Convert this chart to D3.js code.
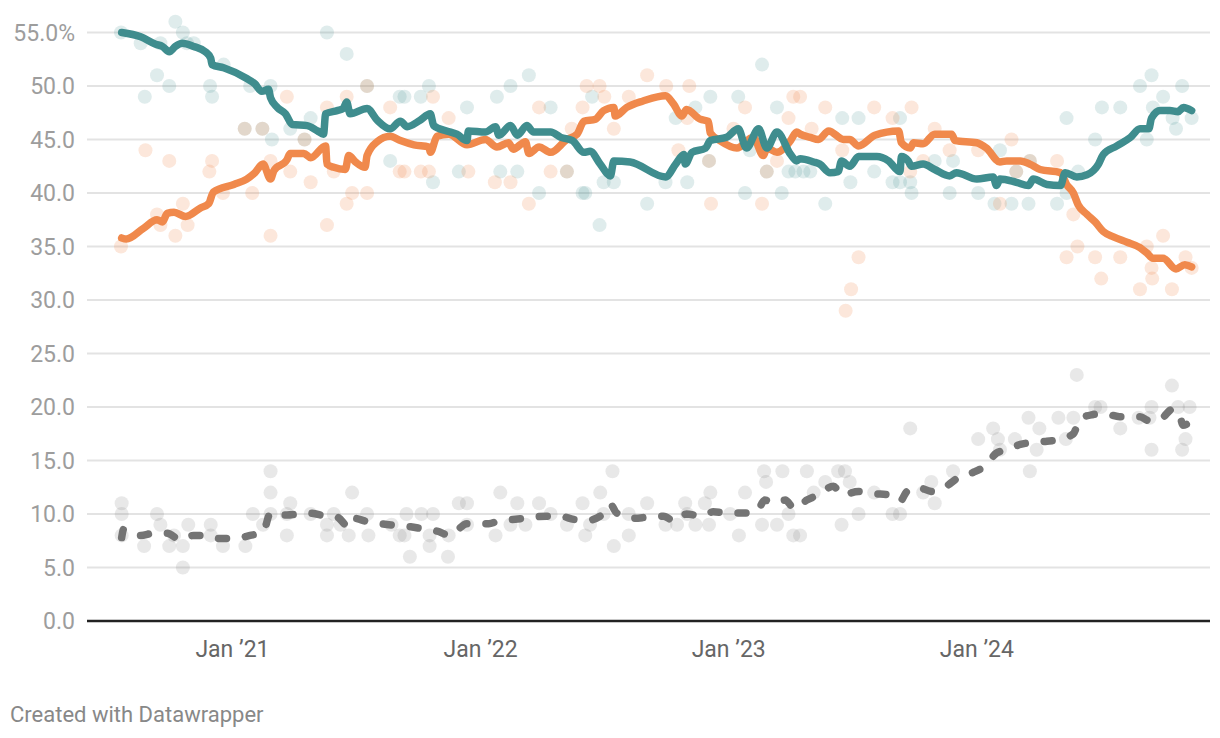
<!DOCTYPE html>
<html><head><meta charset="utf-8">
<script src="https://cdn.jsdelivr.net/npm/d3@7"></script>
<style>
html,body{margin:0;padding:0;background:#fff;}
svg text{font-family:Roboto,"Noto Sans",sans-serif;}
</style></head>
<body><svg id="c" width="1220" height="738"></svg>
<script>
// ---------- data ----------
const yTicks = [0,5,10,15,20,25,30,35,40,45,50,55];
const xTickDates = ["2021-01-01","2022-01-01","2023-01-01","2024-01-01"];
const xTickLabels = ["Jan \u201921","Jan \u201922","Jan \u201923","Jan \u201924"];

const tealLine = [["2020-07-22",55.0],["2020-08-19",54.6],["2020-09-10",53.9],["2020-09-20",53.7],["2020-09-30",53.2],["2020-10-09",53.7],["2020-10-19",54.0],["2020-11-05",53.7],["2020-11-22",53.2],["2020-11-30",52.6],["2020-12-02",52.0],["2020-12-19",51.7],["2021-01-22",50.7],["2021-02-03",50.2],["2021-02-13",49.5],["2021-02-23",49.7],["2021-02-26",48.9],["2021-03-08",48.0],["2021-03-20",47.4],["2021-03-30",46.4],["2021-04-21",46.3],["2021-05-06",45.8],["2021-05-15",45.5],["2021-05-18",47.4],["2021-06-04",47.7],["2021-06-13",47.9],["2021-06-18",48.5],["2021-06-23",47.4],["2021-07-18",47.9],["2021-08-02",46.8],["2021-08-21",46.0],["2021-09-05",46.7],["2021-09-15",46.2],["2021-10-04",46.8],["2021-10-19",47.4],["2021-10-24",46.3],["2021-11-12",45.8],["2021-11-27",45.5],["2021-12-12",44.9],["2021-12-14",45.8],["2022-01-08",45.7],["2022-01-23",46.2],["2022-01-28",45.4],["2022-02-14",46.3],["2022-02-24",45.4],["2022-03-10",46.3],["2022-03-20",45.7],["2022-04-14",45.7],["2022-04-29",45.2],["2022-05-16",44.9],["2022-06-02",43.8],["2022-06-11",43.9],["2022-06-26",42.7],["2022-07-11",41.6],["2022-07-16",43.0],["2022-08-09",42.9],["2022-09-30",41.5],["2022-10-15",42.7],["2022-10-27",43.6],["2022-10-29",42.7],["2022-11-08",43.8],["2022-11-28",44.2],["2022-12-05",44.9],["2022-12-29",45.2],["2023-01-15",46.0],["2023-01-27",44.2],["2023-02-14",46.0],["2023-02-26",44.2],["2023-03-13",45.7],["2023-04-02",43.6],["2023-04-11",43.0],["2023-04-16",43.2],["2023-05-06",42.9],["2023-05-15",42.7],["2023-05-30",41.9],["2023-06-11",42.0],["2023-06-16",43.0],["2023-06-28",42.5],["2023-07-11",43.4],["2023-08-07",43.4],["2023-08-24",43.0],["2023-09-10",42.0],["2023-09-12",43.4],["2023-09-22",43.0],["2023-09-27",42.5],["2023-10-14",42.7],["2023-10-31",42.2],["2023-11-22",41.6],["2023-12-02",41.9],["2024-01-01",41.3],["2024-01-25",41.5],["2024-01-30",40.7],["2024-02-04",41.3],["2024-02-28",41.0],["2024-03-17",40.7],["2024-03-24",41.3],["2024-04-13",40.8],["2024-05-03",40.7],["2024-05-10",41.9],["2024-05-27",41.5],["2024-06-11",41.7],["2024-06-28",42.7],["2024-07-05",43.6],["2024-07-25",44.4],["2024-08-14",45.2],["2024-08-28",46.0],["2024-09-10",46.0],["2024-09-14",47.0],["2024-09-27",47.7],["2024-10-11",47.7],["2024-10-23",47.6],["2024-10-31",48.0],["2024-11-12",47.7]];

const orangeLine = [["2020-07-22",35.8],["2020-07-29",35.7],["2020-08-23",36.7],["2020-09-12",37.5],["2020-09-20",37.3],["2020-09-27",38.1],["2020-10-07",38.2],["2020-10-24",37.8],["2020-11-15",38.6],["2020-11-27",39.0],["2020-12-04",40.1],["2021-01-03",40.8],["2021-01-22",41.3],["2021-02-03",41.9],["2021-02-15",42.7],["2021-02-26",41.3],["2021-03-03",42.1],["2021-03-22",43.1],["2021-03-27",43.7],["2021-04-16",43.7],["2021-04-26",43.3],["2021-05-18",44.4],["2021-05-20",42.7],["2021-05-30",42.4],["2021-06-16",42.2],["2021-06-21",43.5],["2021-07-01",42.9],["2021-07-15",42.4],["2021-07-18",43.5],["2021-08-02",44.8],["2021-08-21",45.3],["2021-09-05",44.9],["2021-09-25",44.5],["2021-10-17",44.3],["2021-10-19",43.8],["2021-10-29",45.3],["2021-11-15",45.5],["2021-12-12",44.5],["2022-01-08",45.0],["2022-01-25",44.3],["2022-02-11",44.7],["2022-02-18",44.1],["2022-03-08",44.8],["2022-03-13",43.7],["2022-03-28",44.3],["2022-04-14",43.8],["2022-05-08",45.0],["2022-05-23",45.5],["2022-06-02",46.7],["2022-06-19",46.9],["2022-07-01",47.7],["2022-07-16",48.0],["2022-07-18",47.2],["2022-08-04",48.0],["2022-08-28",48.6],["2022-09-30",49.1],["2022-10-12",48.3],["2022-10-24",47.2],["2022-10-31",47.8],["2022-11-20",46.9],["2022-12-02",46.7],["2022-12-05",45.6],["2022-12-19",44.9],["2023-01-13",44.2],["2023-02-06",45.2],["2023-02-21",43.5],["2023-02-26",44.2],["2023-03-13",43.8],["2023-04-02",44.9],["2023-04-11",45.7],["2023-04-16",45.5],["2023-05-01",45.2],["2023-05-13",45.0],["2023-05-28",45.8],["2023-06-19",45.0],["2023-06-28",45.0],["2023-07-11",44.4],["2023-08-04",45.4],["2023-09-08",45.8],["2023-09-12",44.7],["2023-09-25",44.2],["2023-09-30",44.7],["2023-10-14",44.6],["2023-10-31",45.5],["2023-11-25",45.5],["2023-11-30",44.9],["2024-01-01",44.7],["2024-01-15",44.2],["2024-02-04",42.9],["2024-02-14",43.0],["2024-03-05",43.0],["2024-03-19",42.7],["2024-04-03",42.2],["2024-05-03",41.9],["2024-05-12",40.8],["2024-05-22",40.0],["2024-05-29",38.9],["2024-06-11",38.0],["2024-06-23",37.3],["2024-07-05",36.4],["2024-07-20",35.9],["2024-08-09",35.4],["2024-08-28",34.9],["2024-09-07",34.4],["2024-09-16",33.9],["2024-10-01",33.9],["2024-10-20",32.9],["2024-11-02",33.3],["2024-11-12",33.1]];

const grayLine = [["2020-07-22",7.8],["2020-07-25",8.6],["2020-08-19",8.0],["2020-09-07",8.2],["2020-09-27",8.2],["2020-10-16",7.6],["2020-11-05",8.0],["2020-11-24",8.0],["2020-12-14",7.7],["2021-01-03",7.7],["2021-01-27",8.0],["2021-02-15",8.3],["2021-02-26",10.1],["2021-03-22",9.9],["2021-04-21",10.1],["2021-05-20",9.8],["2021-06-04",9.7],["2021-06-21",8.8],["2021-06-28",9.6],["2021-07-18",9.3],["2021-08-06",9.1],["2021-09-05",8.9],["2021-09-20",8.8],["2021-10-09",8.6],["2021-10-29",8.4],["2021-11-17",8.0],["2021-12-12",9.1],["2022-01-13",9.1],["2022-01-30",9.4],["2022-02-21",9.5],["2022-03-20",9.7],["2022-04-08",9.8],["2022-04-28",9.8],["2022-05-18",9.5],["2022-06-06",9.4],["2022-06-26",9.8],["2022-07-11",10.9],["2022-07-20",10.1],["2022-08-14",9.6],["2022-09-03",9.7],["2022-09-27",9.8],["2022-10-14",9.3],["2022-10-31",10.0],["2022-11-22",9.8],["2022-12-09",10.2],["2023-01-03",10.1],["2023-01-23",10.1],["2023-02-11",10.2],["2023-02-23",11.3],["2023-03-08",11.0],["2023-03-25",11.3],["2023-04-08",10.5],["2023-04-26",11.3],["2023-05-13",11.8],["2023-06-04",12.6],["2023-06-16",11.8],["2023-07-11",12.1],["2023-08-02",11.9],["2023-08-24",11.8],["2023-09-10",11.2],["2023-09-20",12.1],["2023-10-05",12.5],["2023-10-28",12.1],["2023-11-17",12.6],["2023-12-07",13.5],["2023-12-27",13.9],["2024-01-15",14.6],["2024-01-30",15.7],["2024-02-14",16.0],["2024-03-05",16.5],["2024-03-24",16.7],["2024-04-13",16.8],["2024-05-03",17.0],["2024-05-22",17.5],["2024-06-01",18.9],["2024-06-20",19.3],["2024-07-05",19.4],["2024-07-29",19.1],["2024-08-28",19.1],["2024-09-11",18.7],["2024-09-28",18.9],["2024-10-15",19.8],["2024-10-25",19.4],["2024-10-30",18.3],["2024-11-12",18.7]];

const tealPolls = [["2020-07-21",55],["2020-08-19",54],["2020-08-25",49],["2020-09-12",51],["2020-09-17",54],["2020-09-30",50],["2020-10-09",56],["2020-10-20",55],["2020-10-26",54],["2020-11-05",54],["2020-11-29",50],["2020-12-02",49],["2020-12-19",52],["2021-01-19",46],["2021-01-27",50],["2021-02-14",46],["2021-02-26",50],["2021-02-28",45],["2021-03-27",46],["2021-04-17",45],["2021-04-26",47],["2021-05-20",55],["2021-06-18",53],["2021-07-18",50],["2021-08-21",43],["2021-09-04",49],["2021-09-11",49],["2021-10-05",49],["2021-10-17",50],["2021-10-23",41],["2021-11-30",42],["2021-12-12",48],["2022-01-25",49],["2022-01-30",42],["2022-02-14",50],["2022-02-24",42],["2022-03-13",51],["2022-03-28",40],["2022-04-14",48],["2022-05-08",42],["2022-05-31",40],["2022-06-04",40],["2022-06-14",49],["2022-06-25",37],["2022-07-01",41],["2022-07-16",41],["2022-09-03",39],["2022-09-30",41],["2022-10-15",47],["2022-11-01",41],["2022-11-13",48],["2022-12-03",43],["2022-12-05",49],["2023-01-15",49],["2023-01-25",40],["2023-02-01",44],["2023-02-19",52],["2023-02-26",42],["2023-03-13",48],["2023-03-20",40],["2023-03-30",42],["2023-04-09",42],["2023-04-21",42],["2023-05-01",42],["2023-05-23",39],["2023-06-17",47],["2023-06-29",41],["2023-07-11",47],["2023-08-03",42],["2023-08-30",41],["2023-09-10",41],["2023-09-10",47],["2023-09-25",41],["2023-09-27",40],["2023-10-31",43],["2023-11-22",40],["2023-11-27",43],["2024-01-03",40],["2024-01-27",39],["2024-02-04",44],["2024-02-21",39],["2024-02-28",42],["2024-03-17",39],["2024-03-19",43],["2024-04-28",39],["2024-05-12",47],["2024-05-12",40],["2024-05-29",42],["2024-06-23",45],["2024-07-03",48],["2024-07-30",48],["2024-08-28",50],["2024-09-07",45],["2024-09-14",51],["2024-09-16",48],["2024-10-01",49],["2024-10-15",47],["2024-10-20",46],["2024-10-29",50],["2024-11-12",47]];

const orangePolls = [["2020-07-21",35],["2020-08-26",44],["2020-09-12",38],["2020-09-17",37],["2020-09-30",43],["2020-10-09",36],["2020-10-20",39],["2020-10-27",37],["2020-11-28",42],["2020-12-02",43],["2020-12-18",40],["2021-01-19",46],["2021-01-30",40],["2021-02-14",46],["2021-02-26",43],["2021-02-26",36],["2021-03-22",49],["2021-03-27",42],["2021-04-17",45],["2021-04-26",41],["2021-05-20",48],["2021-05-20",37],["2021-05-30",42],["2021-06-18",49],["2021-06-18",39],["2021-06-26",40],["2021-07-18",40],["2021-07-18",50],["2021-08-21",48],["2021-09-04",42],["2021-09-11",42],["2021-10-05",42],["2021-10-17",42],["2021-10-23",49],["2021-11-15",47],["2021-12-14",42],["2022-01-22",41],["2022-02-14",41],["2022-03-13",39],["2022-03-28",48],["2022-04-14",42],["2022-05-08",42],["2022-05-15",46],["2022-05-31",48],["2022-06-06",50],["2022-06-25",50],["2022-07-02",49],["2022-07-16",46],["2022-08-07",49],["2022-09-03",51],["2022-10-01",50],["2022-10-19",44],["2022-11-01",47],["2022-11-04",50],["2022-12-03",43],["2022-12-06",39],["2023-01-08",46],["2023-01-25",48],["2023-02-19",39],["2023-02-26",42],["2023-03-13",43],["2023-03-30",47],["2023-04-06",49],["2023-04-16",49],["2023-05-03",46],["2023-05-23",48],["2023-06-17",44],["2023-06-22",29],["2023-06-30",31],["2023-07-11",34],["2023-08-03",48],["2023-08-30",47],["2023-09-25",42],["2023-09-27",48],["2023-10-14",43],["2023-10-31",46],["2023-11-22",44],["2024-01-03",44],["2024-02-04",39],["2024-02-21",45],["2024-02-28",42],["2024-03-19",43],["2024-04-28",43],["2024-05-12",34],["2024-05-22",38],["2024-05-28",35],["2024-06-23",34],["2024-07-02",32],["2024-07-30",34],["2024-08-28",31],["2024-09-07",35],["2024-09-14",33],["2024-09-15",32],["2024-10-01",36],["2024-10-14",31],["2024-11-03",34],["2024-11-12",33]];

const grayPolls = [["2020-07-22",11],["2020-07-22",10],["2020-07-22",8],["2020-08-24",7],["2020-09-12",10],["2020-09-17",9],["2020-09-30",7],["2020-10-07",8],["2020-10-20",5],["2020-10-20",7],["2020-10-28",9],["2020-11-30",9],["2020-11-30",8],["2020-12-18",7],["2021-01-20",7],["2021-01-31",10],["2021-02-15",9],["2021-02-26",14],["2021-02-26",12],["2021-02-26",10],["2021-03-22",8],["2021-03-22",10],["2021-03-27",11],["2021-04-26",10],["2021-05-20",9],["2021-05-20",8],["2021-05-30",10],["2021-06-09",9],["2021-06-21",8],["2021-06-26",12],["2021-07-18",10],["2021-07-20",8],["2021-08-23",9],["2021-09-04",8],["2021-09-11",8],["2021-09-14",10],["2021-09-19",6],["2021-10-06",10],["2021-10-18",8],["2021-10-18",7],["2021-10-23",10],["2021-11-14",6],["2021-11-15",8],["2021-11-30",11],["2021-12-12",11],["2021-12-12",9],["2022-01-23",8],["2022-01-30",12],["2022-02-14",9],["2022-02-24",11],["2022-03-08",9],["2022-03-28",11],["2022-04-14",10],["2022-05-08",9],["2022-05-31",11],["2022-06-04",8],["2022-06-11",9],["2022-06-26",12],["2022-07-01",10],["2022-07-14",14],["2022-07-16",7],["2022-08-07",8],["2022-08-07",10],["2022-09-03",11],["2022-09-30",9],["2022-10-17",9],["2022-10-29",11],["2022-11-01",10],["2022-11-13",9],["2022-11-27",11],["2022-12-03",9],["2022-12-05",12],["2023-01-03",10],["2023-01-16",8],["2023-01-25",12],["2023-02-19",9],["2023-02-22",14],["2023-02-25",13],["2023-03-13",9],["2023-03-21",14],["2023-03-30",10],["2023-04-06",8],["2023-04-16",8],["2023-04-26",14],["2023-05-06",12],["2023-05-23",13],["2023-06-11",14],["2023-06-16",9],["2023-06-21",14],["2023-06-28",13],["2023-07-11",10],["2023-08-03",12],["2023-08-30",10],["2023-09-10",10],["2023-09-25",18],["2023-10-14",12],["2023-10-26",13],["2023-10-31",11],["2023-11-27",14],["2024-01-03",17],["2024-01-25",18],["2024-02-01",17],["2024-02-04",16],["2024-02-26",17],["2024-03-17",19],["2024-03-19",14],["2024-03-29",16],["2024-04-02",18],["2024-04-30",19],["2024-05-11",17],["2024-05-22",19],["2024-05-27",23],["2024-06-23",20],["2024-07-01",20],["2024-07-30",18],["2024-08-26",19],["2024-09-11",19],["2024-09-14",20],["2024-09-14",16],["2024-10-14",22],["2024-10-23",20],["2024-10-29",16],["2024-11-03",17],["2024-11-09",20]];

const footerText = "Created with Datawrapper";

// ---------- drawing ----------
const parse = d3.utcParse("%Y-%m-%d");
const svg = d3.select("#c");
const W = 1220, H = 738;
const margin = {left:87, right:10, top:32.5, bottom:117};

const x = d3.scaleUtc()
  .domain([parse("2020-06-01"), parse("2024-12-09")])
  .range([margin.left, W - margin.right]);
const y = d3.scaleLinear().domain([0,55]).range([H - margin.bottom, margin.top]);

const colors = {teal:"#3f8d8e", orange:"#f0894c", gray:"#747474"};

// grid
const grid = svg.append("g");
grid.selectAll("line").data(yTicks.filter(d=>d>0)).join("line")
  .attr("x1", margin.left).attr("x2", W - margin.right)
  .attr("y1", d=>y(d)).attr("y2", d=>y(d))
  .attr("stroke", "#e3e3e3").attr("stroke-width", 2);

// y labels
svg.append("g").selectAll("text").data(yTicks).join("text")
  .attr("x", 75).attr("y", d=>y(d)).attr("dy","0.36em")
  .attr("text-anchor","end").attr("fill","#9d9d9d")
  .attr("font-size", 23)
  .text(d => d===55 ? d.toFixed(1)+"%" : d.toFixed(1));

// x labels
svg.append("g").selectAll("text").data(xTickDates).join("text")
  .attr("x", d=>x(parse(d))).attr("y", 657)
  .attr("text-anchor","middle").attr("fill","#666")
  .attr("font-size", 23)
  .text((d,i)=>xTickLabels[i]);

// points
function dots(data, col, op){
  svg.append("g").selectAll("circle").data(data).join("circle")
    .attr("cx", d=>x(parse(d[0]))).attr("cy", d=>y(d[1])).attr("r", 7)
    .attr("fill", col).attr("fill-opacity", op);
}
dots(grayPolls, colors.gray, 0.17);
dots(tealPolls, colors.teal, 0.17);
dots(orangePolls, colors.orange, 0.2);

// lines
const line = d3.line().x(d=>x(parse(d[0]))).y(d=>y(d[1])).curve(d3.curveMonotoneX);
function drawLine(data, col, dash){
  svg.append("path").datum(data).attr("d", line)
    .attr("fill","none").attr("stroke", col).attr("stroke-width", 7.5)
    .attr("stroke-linejoin","round").attr("stroke-linecap","round")
    .attr("stroke-dasharray", dash || null);
}
drawLine(grayLine, colors.gray, "8,19");
drawLine(orangeLine, colors.orange);
drawLine(tealLine, colors.teal);

// baseline
svg.append("line").attr("x1", margin.left).attr("x2", W - margin.right)
  .attr("y1", y(0)).attr("y2", y(0)).attr("stroke","#222").attr("stroke-width",2.5);

// footer
svg.append("text").attr("x", 10).attr("y", 722).attr("fill","#888")
  .attr("font-size", 22).text(footerText);
</script></body></html>
